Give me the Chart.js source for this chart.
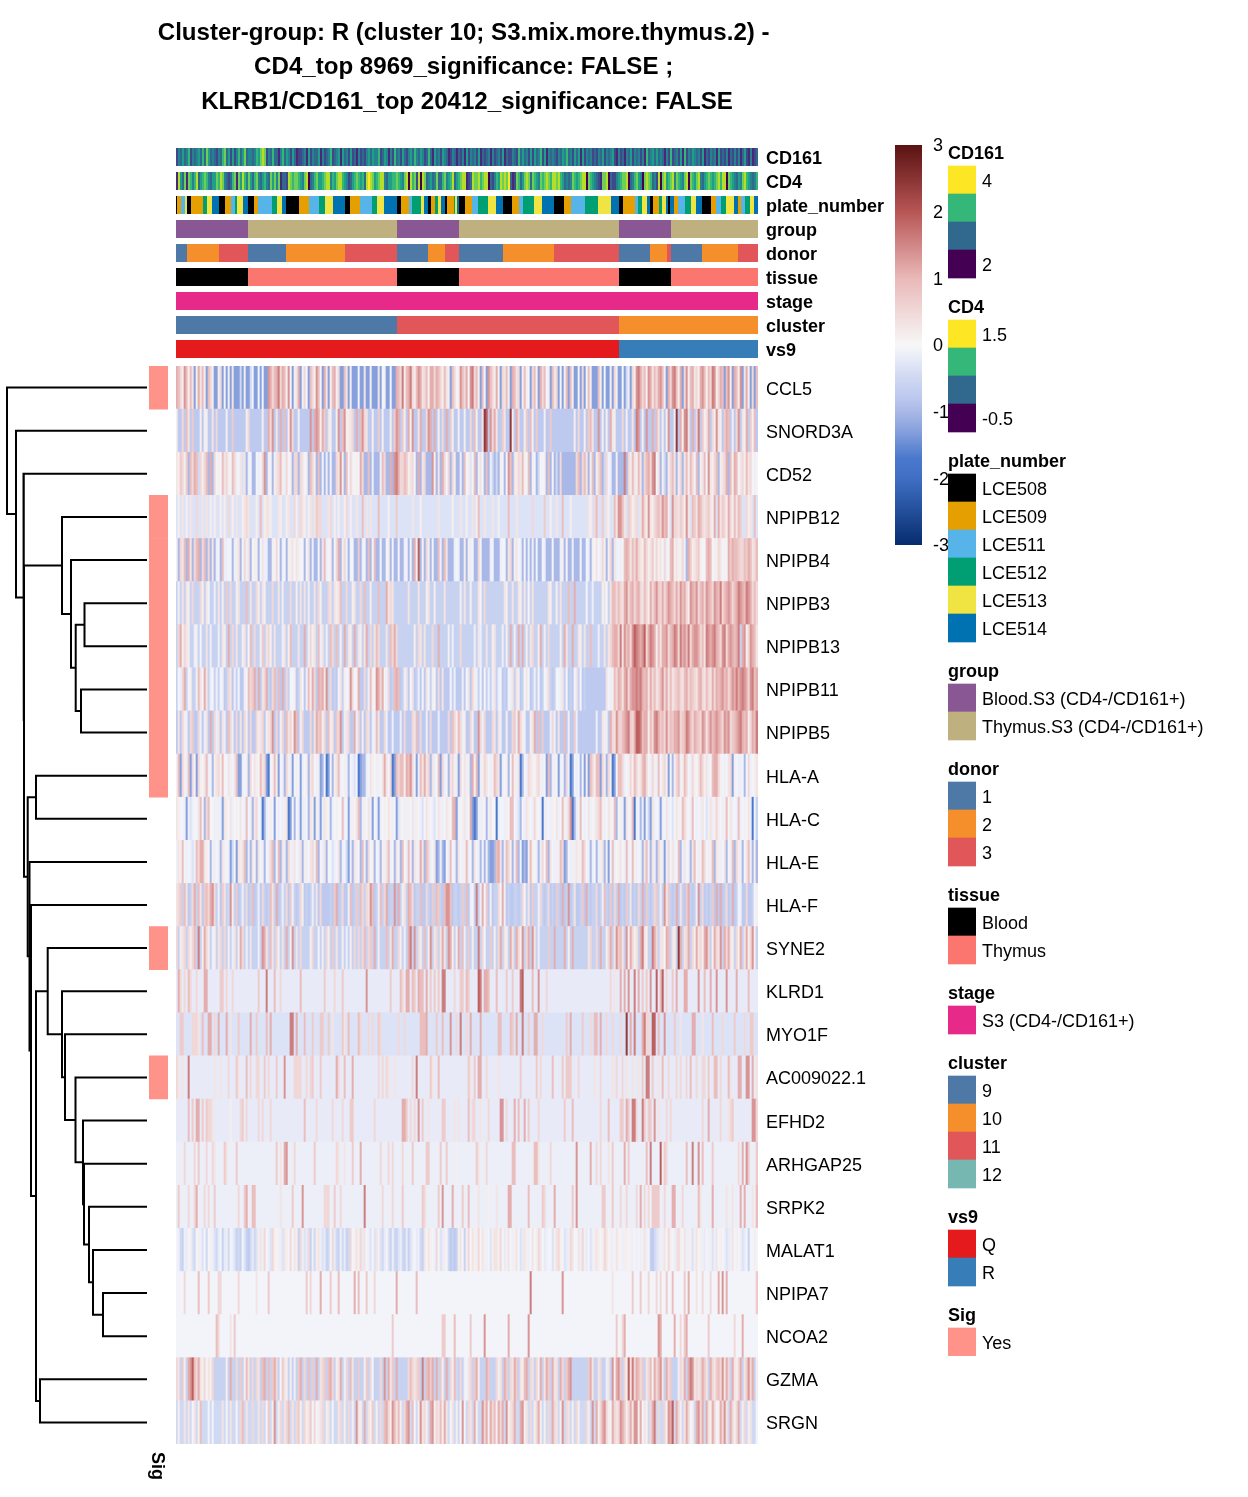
<!DOCTYPE html>
<html><head><meta charset="utf-8">
<script src="https://cdn.jsdelivr.net/npm/chart.js@4"></script>
<style>html,body{margin:0;padding:0;background:#fff}canvas{position:absolute;display:block}</style>
</head><body>
<script>
const TITLE_LINES = ["Cluster-group: R (cluster 10; S3.mix.more.thymus.2) - ", "CD4_top 8969_significance: FALSE ; ", "KLRB1/CD161_top 20412_significance: FALSE"];
const GENES = ["CCL5","SNORD3A","CD52","NPIPB12","NPIPB4","NPIPB3","NPIPB13","NPIPB11","NPIPB5","HLA-A","HLA-C","HLA-E","HLA-F","SYNE2","KLRD1","MYO1F","AC009022.1","EFHD2","ARHGAP25","SRPK2","MALAT1","NPIPA7","NCOA2","GZMA","SRGN"];
const SIG_GENES = ["CCL5","NPIPB12","NPIPB4","NPIPB3","NPIPB13","NPIPB11","NPIPB5","HLA-A","SYNE2","AC009022.1"];
const TRACKS = ["CD161","CD4","plate_number","group","donor","tissue","stage","cluster","vs9"];
const N_CELLS = 291;

// z-score code of each letter used in the heat rows
const Z_CODES = {a:-2,b:-1.7,c:-1.3,d:-1,e:-0.78,f:-0.62,g:-0.48,h:-0.33,i:-0.2,j:-0.14,k:-0.06,l:0.15,m:0.3,n:0.5,o:0.7,p:0.9,q:1.1,r:1.35,s:1.6,t:1.9,u:2.4};

const CD161_VALUES = "2435346243 4536375343 2436735252 4635734434 6578724363 3146354253 1223415243 3514234623 4515342523 1423245354 4623541426 3425324536 4354236315 3425431243 1324152434 2513234142 3425132243 2635342525 3462514343 2435463425 3515243423 2435243452 1423143524 3424163453 5343142623 4251624354 3425132434 1523241324 2413521412 3";
const CD4_VALUES = "1853717646 8356764355 7687432367 1758647536 7435643757 4713328767 7654780346 7556788465 7886542356 7656389875 6788435566 7654780867 2808734534 7336745683 5678812387 7867880324 6587879312 7635787376 5476787688 7865343476 5678807654 3217780322 4567780346 7540787634 2807856784 7654780765 7843567656 7868807654 3547865434 6";
const PLATE_RUNS = [[0,0],[.5,1],[2.5,2],[4.5,4],[5.5,0],[7.5,1],[13.5,3],[15.5,4],[18,5],[21.5,0],[24.5,1],[27.5,2],[29.5,3],[30.5,4],[33.5,5],[36,0],[39,1],[41,2],[48,3],[50.5,4],[53,5],[55,0],[61.5,1],[66.5,2],[71.5,3],[74.5,4],[78.5,5],[84.5,0],[87,1],[92,2],[98,3],[100.5,4],[104,5],[110.5,0],[112.5,1],[116.5,2],[118,3],[122.5,4],[124,5],[126,0],[127.5,1],[129.5,3],[131,4],[132.5,5],[134.5,0],[135.5,1],[139,3],[139.5,4],[140.5,5],[141.5,0],[144.5,1],[148,2],[151,3],[156,4],[160,5],[163.5,0],[168,1],[171.5,2],[173.5,3],[179,4],[183,5],[189,0],[194,1],[197.5,2],[204.5,3],[211,4],[217.5,5],[221.5,0],[223.5,1],[229.5,2],[231,3],[233,4],[235.5,5],[237,0],[238.5,1],[241.5,3],[243,4],[245,5],[246,0],[247,5],[249,1],[251,2],[254.5,3],[257.5,4],[260,5],[263,0],[267.5,1],[270,2],[272.5,3],[275,4],[279,5],[281,1],[282.5,2],[284.5,3],[287,4],[289,5]];
const GROUP_RUNS = [[0,0],[36,1],[110.5,0],[141.5,1],[221.5,0],[247.5,1]];
const DONOR_RUNS = [[0,0],[5.5,1],[21.5,2],[36,0],[55,1],[84.5,2],[110.5,0],[126,1],[134.5,2],[141.5,0],[163.5,1],[189,2],[221.5,0],[237,1],[245.5,2],[247.5,0],[263,1],[281,2]];
const TISSUE_RUNS = [[0,0],[36,1],[110.5,0],[141.5,1],[221.5,0],[247.5,1]];
const STAGE_RUNS = [[0,0]];
const CLUSTER_RUNS = [[0,0],[110.5,2],[221.5,1]];
const VS9_RUNS = [[0,0],[221.5,1]];

const CCL5 = "qpnlrplpmc lqmplcpnlc clnckclcmc ccgclccgkc ckckccrqnp qsnqplrkcl mqclnkcpnl rpkcqmclpq lnccpmclcc ckccmcclcc cmcklcckcc qpnslpqsnl prqmnplqqn qpnlpmlcpn klrpnqkrsn plcpkcrpnl qlcnmplcqp mnclplkcnp lcqnpklcpm nckclpcplc ckcnckplcc cplckcclcn lcckcglcnl rsqnplrqmp nqrplcqnrs plqcnrlpqm nlqrplpnsr lnqpcprlcq plrcmqlcnc p";
const SNORD3A = "leenepmeoe eelelleeme neeeeleeoe eeeeelneee eeeleeqnre meqepelrne eleeeeereq rqlqoemlee lreprllmne qeprnmeele eoeleeeleo rqeoleqlre emqeenrqeq eleneqeole eleeleenep leemuternq meeomeeule qneeloeple oeeeleeoee eeeeeeeeel eneeleopme ereleleqml eeeneleeme srelereeqe pmelelreel ueqlrsmeqe nseolmqenl rmleoqpele nremlqeolp e";
const CD52 = "mlonlodpnq pgnlnpdqdn klkpmnlkpn jkmhmdjkdd kjknrdlkdl mnpljnkldn ndnmkldpnl dpdkdjdkdd nmrldpknlk lkqnddpdjd ddjpnddqdr sqnnpolmnk dqdmndddrl dmdqnkndnl ddjdpklhkp dlmkdpdjgd gdlkdkrpdm lnmplkpdlk dgkkldpdkd gdnddddddd npdnpmdlpd lnpdgnkjdd ldddsdnlpm lpmdnpqnrs kmdlgdlnpm dlndmplpnk pdlmpkrmln pdlmnqdplq pkmnlpmnkl k";
const NPIPB12 = "hlhmhlhmhh nhhmhmhlhl hhlhlhnhlh mhhlmnmhhh lhphlmmlhh hmlhhlmhhn lhnmlhlmhm onnhhhmnhl hlhhlnhlhh mhhphmhmhh hphhhhlhhh ohhhhhhhmh hhlhhhhhhh hmhhhhhhlh hhmhhlhhmh lphhmhhhmh hlhhhhphhh mhhhhhhhnh hhhhohhlhh mhhphhhlhh hhhhhhmlhn phhohmlhhp mrrpmhonlm nhmqnlrmln opnrpqlhrn nmonlrmhpo mqpnmnomlq hqmonlqnlp mpohhnlmhp h";
const NPIPB4 = "ldnmpdqmdn pqdnpdndmd jkdpjjkkdj lmdknjmdkl ldkmjjddlk nkdjkdllmk mlkkdkmdjd dkdmpjkldk nqdlnjdkkd dodjkdpdkp ddkddkldkd dkddjkdkdq ltdkdnldkd dpjdpmdddj kjddldljkd dnkddddjkd ddjkkdmndl mkjdkdjdjd kddkjdddkd ddjldkddjd ddkddkjdlk mkjnldlndm jkjkpqpmpn qnmlpnlmol nlmknjkpql mllnjdqolm nolkkpqpkl lnmklkqoqp ponnpoqpmn p";
const NPIPB3 = "flfmfmlfnf ffnlfmkffj fmflfofnff lmfffpfmff nlfmlfffnf fmflfffnff lfmfmfjffm fnlfffnmfm lmpffnfflm ffnfpfflff fpfffqmnmf ffffffmfff fmffflmffl ffffmfffff fflfmfflff fmkfnfffff ffffmlffmf fmlfmfkfmf ffffffmlff lfmfffpffq fffffkffjf ffflmkfmpp npnmqrnpqn pqnmpnlqnp ronqnprqpn qnrpqnlrqp rnpqnrqpnr qpsnpqrqnp qsrqpsrqnp n";
const NPIPB13 = "fnqlnmlffj lfkffmfjff fjfmlfqfnf mfflmfkpfn fflofmnlfm fffjmflpff fmffqfjnlm fpjmfjfpnf pflfqfmlfq fmlfmqfnfm pnfffmfpnq nffffffffl fnmfmfffnf fqfffflfjf ffnffffffj fmjffmfflm fffjflfqfl fqfqflfmnf flqfjfnfff fflfqmffqf fmlfmffpff fjffmfmnpq qnsmrpqnrt srqrtnqsrq lpmqqrnpqs rnsqrpsnqr rqnpmsrqrs qpnrsnqrqp qsfqrlnrqp m";
const NPIPB11 = "fkjnqfklff jpmkqmfjkf jfkjefnmej fkeejkpnoq fqemnqfenp fpeqenfkkl efmkejplqn eqpqmrfnef ekmflkjrnk lqeenfjplk rqnqkjnefp qpefjmekme fjekemkflk enemeeekfj eeejekmenl jfkekfjfjm fjkefekjmf mlefkmkefj fkefkjnfef kkjmfkefek mfkefeeeee eeeeemkjlp nqpmqrnqrr srsqpqmqnp mnprnqmpmn opnmpqnpon mpqnmpnmqn qpqrpqnprq sqrsrqnrsp q";
const NPIPB5 = "emenljenoe enjejmeqen jmemjepnje nemenlenee nlmnelmnre nelnepmnlr pelneeenem qoplneplme onrejmneeq jnelenmejj pmeenjeeje eejeneeenm peneejenee ejeeeenepn lpnjleenle ernjneeenm emjeeleeno jqnljeelmq epeoeeejnj emeepeleeo jeeeeeeeee jeemljeqnm ronpqrsonq ttspqqlpnr sqopnrnpoq qrnopsrpnq ponrqmprpq rqpnrqrnop qrsqpqlnqp s";
const HLA_A = "lpcnljpcnk cnlkmpjkdl mnlpkkmjkm pccjkldnkm lkpmncbklp lckjdnljck lkcjkldmnk ljcdkbckdl mpjkljdkjh kbcddjkmlk ljkmqmknbc pnpplqprnk cjpmqmndmj kpcnjkdmnl jcnkmjldql pcjlnmkjlp nmcjkldkpl jmbdkjnmlk mnljkcpdjl kcjkdnjbck jkdkclcpnl ppcnldnlbc kppnjklnlp nlmpqnkjnl jpkmnlckdl npjlpnkjnl kmpnlmjkpq qnlkjkmncl kjjkdknjkl m";
const HLA_C = "mlkkjcjhjk kmpkdnpkkj ljjcmlkmjk lkmkjpkjdm nkjbdjklkc kjkjlmbckd kjcjjkdmlc ljcjmlkdjk lkkpjkcjlk mpdjlkmjck jcjklkmljk chlkjljkmj lkjhkmlkjh kmljkmlkpq cjklmjkqcb cjjlkdjmkk bjkkjlkppk jhdkjmlkjn lkjbljkjlk mjkpljnrbd jkpkjkmjkl mnpljkmlkp dkljcmklpb jkdjckgcmj kjcjkmjkhk mlkpnlkjpk jkjmkhlmjl nlkjlpkmjk jpjklkmjbk f";
const HLA_E = "jmlpkjkjhj pnqqmlkdlj kjdmlkjcgk cmlmpdjdmk dmkjdkjnpd kpdmjdnljm kjmdljkmnj pdkjmdkkhj kmdjkgcjdm lkdpjdnkld kjdljmpjkd mkdpkjpldm ljqmdpnjkm cdjdckjpkj dmkjlpjkdm kjdkdjdccd pqmdjpnldj pdkcdclplk jdjnkpdmkj ljpncdkjlj mljpnkjdjk djlmdjckpj klmkjpjkpl jkjdmpjdmj dnljcjnkmj kpdjmkjdmp kjlpnkjlpd mljkmdkjpd nljdkmpjdl d";
const HLA_F = "mnofpmefnq fpmeopnqrn fjeomfgrlf oefjfnefpe fjenfefpmf qefjfneojf efnlefefjf meneeeefeo qefneejpef ofpnfnmrpe fjpfnqeffr eqflmfqpne ffpeenfeof pofeprrpef fefofpejkf sfjqkoelef fnkqlefeef fefnkfmeof fjnfefnefe ofeqefrefm eefoeqfeff nefjpfeoen fqefeofmef enfqeofefn ofjfrmofef qemfeoqfef jrfnefefoe qeqefnefqe fkjeeneefk l";
const SYNE2 = "nflmnfnlnp fsflqnlfjl fmnfnflfjm flqnfjfmff fjfrqmfpmf nlfmfqflrf mfnfffflnf fkflfnlfof mfflfjflfn fnfnpfnofq flfffpfmqf fnlfjfqsfr fnlfpflrfm nfmqmfrqlf lqfpjfoflf fsfnkffofl fnqfmlfqmf qnlrfnqfrm fjffffoffq ffffqflfqf ffffffmnff nfqfflnqfm ropmfrlqnl mfqsmlffsq nfmmkqpfml fuqfmnqfnl qmnlqrnflq nmrfqnqmlf nlqfmqlnrl f";
const KLRD1_HITS = [[1,"q"],[2,"n"],[4,"n"],[6,"p"],[7,"n"],[10,"n"],[14,"q"],[15,"q"],[22,"o"],[23,"o"],[25,"n"],[28,"n"],[41,"o"],[45,"s"],[49,"p"],[52,"n"],[62,"p"],[74,"o"],[79,"n"],[83,"o"],[95,"r"],[107,"o"],[112,"p"],[113,"n"],[115,"q"],[116,"q"],[118,"p"],[119,"o"],[121,"q"],[122,"p"],[123,"p"],[125,"q"],[127,"o"],[129,"o"],[131,"o"],[133,"s"],[134,"s"],[139,"n"],[142,"o"],[143,"o"],[145,"p"],[145.5,"o"],[151,"t"],[152,"s"],[154,"q"],[155,"q"],[156,"p"],[160,"p"],[165,"o"],[168,"o"],[172,"s"],[173,"t"],[178,"p"],[181,"r"],[185,"n"],[217,"n"],[219,"m"],[222,"q"],[224,"q"],[226,"r"],[229,"s"],[231,"q"],[233,"o"],[235,"o"],[237,"r"],[240,"t"],[242,"p"],[243,"t"],[245,"n"],[248,"o"],[250,"q"],[254,"q"],[255,"q"],[261,"r"],[264,"p"],[267,"q"],[270,"r"],[275,"r"],[280,"q"],[286,"p"]];
const MYO1F_HITS = [[2,"o"],[3,"o"],[8,"n"],[9,"n"],[10,"n"],[11,"m"],[13,"p"],[16,"q"],[17,"q"],[19,"n"],[21,"q"],[25,"q"],[27,"m"],[31,"o"],[37,"q"],[40,"o"],[45,"p"],[47,"q"],[57,"s"],[58,"s"],[60,"q"],[64,"p"],[68,"o"],[72,"o"],[73,"o"],[76,"o"],[78,"m"],[83,"o"],[84,"m"],[86,"p"],[91,"p"],[92,"n"],[96,"n"],[98,"n"],[101,"o"],[102,"n"],[111,"n"],[114,"n"],[122,"p"],[123,"p"],[124,"p"],[125,"q"],[130,"o"],[133,"p"],[137,"r"],[140,"n"],[142,"s"],[145,"n"],[147,"q"],[152,"q"],[161,"p"],[162,"p"],[167,"p"],[168,"o"],[170,"q"],[173,"s"],[176,"o"],[179,"q"],[180,"q"],[183,"n"],[195,"o"],[197,"q"],[203,"o"],[207,"n"],[209,"p"],[210,"p"],[212,"q"],[215,"n"],[218,"n"],[222,"n"],[225,"u"],[227,"q"],[229,"s"],[233,"q"],[234,"s"],[235,"n"],[236,"n"],[238,"t"],[239,"t"],[241,"p"],[244,"r"],[249,"o"],[252,"m"],[258,"q"],[259,"q"],[263,"m"],[268,"p"],[273,"n"],[279,"o"],[284,"n"],[287,"o"],[288,"o"]];
const AC009022_HITS = [[0,"n"],[1,"m"],[3,"m"],[6,"s"],[19,"m"],[22,"m"],[26,"n"],[30,"o"],[31,"m"],[35,"p"],[37,"n"],[40,"n"],[41,"n"],[44,"o"],[46,"n"],[50,"o"],[54,"r"],[59,"n"],[60,"n"],[61,"n"],[62,"n"],[65,"n"],[67,"n"],[68,"o"],[72,"o"],[80,"q"],[81,"n"],[84,"p"],[88,"q"],[101,"n"],[103,"n"],[105,"n"],[106,"m"],[109,"m"],[118,"n"],[120,"s"],[127,"o"],[128,"m"],[131,"p"],[146,"o"],[147,"m"],[149,"o"],[151,"q"],[152,"q"],[155,"n"],[161,"m"],[172,"o"],[180,"o"],[182,"n"],[188,"p"],[193,"o"],[195,"o"],[196,"o"],[197,"o"],[201,"n"],[209,"m"],[212,"n"],[218,"m"],[220,"n"],[223,"n"],[225,"m"],[228,"m"],[231,"m"],[233,"o"],[235,"s"],[236,"s"],[238,"o"],[241,"m"],[243,"p"],[246,"n"],[250,"n"],[252,"n"],[255,"n"],[257,"p"],[260,"n"],[263,"n"],[264,"n"],[266,"o"],[269,"p"],[270,"p"],[272,"n"],[276,"p"],[277,"m"],[281,"q"],[282,"q"],[285,"r"],[286,"r"],[288,"q"],[290,"m"]];
const EFHD2_HITS = [[6,"p"],[8,"o"],[10,"q"],[11,"q"],[13,"o"],[15,"o"],[16,"n"],[17,"n"],[18,"m"],[27,"l"],[32,"n"],[33,"o"],[35,"n"],[41,"n"],[43,"n"],[47,"n"],[64,"p"],[70,"n"],[78,"n"],[83,"n"],[87,"o"],[88,"o"],[99,"n"],[113,"q"],[114,"q"],[115,"o"],[117,"n"],[119,"n"],[121,"r"],[123,"o"],[126,"m"],[133,"o"],[134,"o"],[139,"m"],[141,"m"],[146,"p"],[148,"n"],[149,"n"],[152,"m"],[156,"n"],[162,"r"],[163,"r"],[165,"n"],[169,"q"],[171,"p"],[174,"q"],[176,"o"],[181,"n"],[194,"o"],[198,"p"],[212,"n"],[216,"p"],[222,"o"],[223,"o"],[225,"q"],[226,"o"],[228,"s"],[229,"s"],[230,"n"],[233,"s"],[234,"o"],[236,"o"],[237,"o"],[239,"r"],[241,"m"],[245,"n"],[247,"n"],[263,"n"],[266,"q"],[272,"n"],[276,"m"],[277,"n"],[278,"o"],[288,"r"],[289,"r"],[290,"n"]];
const ARHGAP25_HITS = [[4,"n"],[9,"n"],[11,"o"],[15,"n"],[18,"n"],[19,"m"],[24,"o"],[25,"m"],[30,"o"],[50,"o"],[52,"m"],[54,"q"],[55,"r"],[59,"n"],[69,"o"],[80,"n"],[81,"m"],[84,"m"],[88,"o"],[92,"q"],[102,"n"],[106,"n"],[108,"n"],[113,"n"],[118,"o"],[125,"o"],[126,"o"],[132,"o"],[135,"o"],[140,"l"],[150,"o"],[151,"m"],[155,"n"],[168,"p"],[169,"p"],[179,"p"],[180,"p"],[181,"m"],[187,"n"],[200,"r"],[207,"q"],[210,"n"],[212,"n"],[216,"m"],[218,"o"],[224,"q"],[226,"o"],[235,"p"],[237,"s"],[242,"t"],[244,"o"],[245,"n"],[255,"p"],[258,"s"],[261,"r"],[263,"p"],[268,"o"],[281,"n"],[283,"q"],[285,"r"],[286,"o"],[290,"o"]];
const SRPK2_HITS = [[1,"o"],[6,"n"],[9,"n"],[10,"q"],[14,"n"],[16,"n"],[19,"o"],[31,"n"],[34,"o"],[35,"q"],[38,"p"],[39,"p"],[52,"m"],[58,"o"],[63,"r"],[74,"n"],[75,"n"],[76,"n"],[79,"o"],[82,"n"],[94,"s"],[103,"n"],[108,"n"],[113,"o"],[123,"o"],[124,"n"],[131,"o"],[133,"r"],[138,"q"],[143,"o"],[146,"p"],[151,"m"],[156,"l"],[160,"m"],[166,"q"],[167,"q"],[176,"p"],[183,"o"],[184,"n"],[189,"q"],[198,"o"],[200,"r"],[213,"o"],[214,"o"],[218,"o"],[222,"n"],[225,"n"],[230,"n"],[232,"q"],[234,"n"],[236,"n"],[238,"o"],[239,"o"],[240,"o"],[241,"o"],[244,"n"],[248,"q"],[249,"q"],[253,"n"],[261,"p"],[262,"m"],[268,"q"],[275,"m"],[278,"m"],[282,"q"],[284,"q"],[288,"m"],[290,"p"]];
const MALAT1 = "kjgfjiklhg kljhkgkljh gikfijgkjh fgfkhfegig hlmjnkjhnl kljhmlknkm lfnjhinfjg lmjhifgkni gfjgifgnkl mlnimkjhkh mlhgikhfjg fhjgfifhjk ijgfmkmlkj nkhilkgefe flmkflnkml lnkmljkhlm mlnkilmkjl mkhimljkmk lnmkijkkhl mnlkhijnmk kmjnlikhjl mlklnmkljk mlkjllkljk jkjlmjkfeg hiljmknlkj mnlkmjljhl mkljikjlhj mklkjhijmk lkjhikfkkl k";
const NPIPA7_HITS = [[4,"n"],[11,"p"],[16,"o"],[21,"n"],[22,"n"],[31,"n"],[40,"m"],[46,"o"],[65,"o"],[67,"n"],[72,"q"],[77,"o"],[81,"p"],[89,"q"],[91,"p"],[95,"o"],[99,"n"],[110,"q"],[120,"p"],[177,"s"],[193,"r"],[218,"m"],[228,"o"],[232,"o"],[236,"n"],[240,"n"],[242,"n"],[245,"o"],[248,"p"],[254,"o"],[256,"q"],[260,"m"],[263,"n"],[267,"n"],[271,"q"],[273,"r"],[275,"q"],[290,"o"]];
const NCOA2_HITS = [[20,"p"],[21,"n"],[27,"m"],[29,"o"],[108,"o"],[132.5,"o"],[134,"o"],[138.5,"p"],[147,"o"],[153.5,"r"],[165.5,"q"],[176,"r"],[219.5,"o"],[223,"n"],[224,"q"],[241,"r"],[242,"q"],[249,"q"],[252,"n"],[254,"o"],[255,"q"],[265.5,"o"],[279,"n"],[282.5,"q"]];
const GZMA = "nmfolfqrtp nqmlnkmlnf ffffflfqff nfoflpmfnf nmfpqfpfoq nfkomlflfj foqfnfpfof qfmnofpqnf lmqfjnfpmf fofflofnkf ffnfrfqmof qfffffnpnm nofsfpqoqf qfolfqfnlp gfnfjkmnfo qlfffqofff nlmfqofnmq ofmlpqfnmf nlqfmqofqm mfqnfoqrff ffffffoqmf fmnffjmfrl qrofnltmsn qpnofmnplq nprmfqnoff fjnmqfqsrm nmnqomfqnm opnrmqnfqm lnqfmornqf l";
const SRGN = "glggmgmgkm glpgggkgkg gggmgkgmgg kgnpgmggng gmgngkoglr glngmnpgmg nolgnlmokn klmnglmgkg gmnglgnglg rmlgqgmlog lgngpqnlrp mplgnqrgpk glrmnlgqrl nmplqmgkmg lgkrkgnmgq lggrnqlqnp lqnqgrlmnq ggqrlmgngl nqlglgngqn mglrgnmglg nlgggnlgrg qlnqrnlkqn mnrqolnqmr rlqkmlgnqs gnggnlrqtg qnlgmqnklg qrnqgqmlqn klqnrmgqnl nqglnglmgg k";

// dendrogram merges: [height, childA, childB]; integer children are row numbers
const M_NPIPA7_NCOA2 = [44,21,22];
const M_MALAT1 = [54,20,M_NPIPA7_NCOA2];
const M_SRPK2 = [58,19,M_MALAT1];
const M_ARHGAP25 = [63,18,M_SRPK2];
const M_EFHD2 = [64,17,M_ARHGAP25];
const M_AC = [71.5,16,M_EFHD2];
const M_MYO1F = [82,15,M_AC];
const M_KLRD1 = [85,14,M_MYO1F];
const M_SYNE2 = [99.3,13,M_KLRD1];
const M_GZMA_SRGN = [107,23,24];
const M_J = [111,M_SYNE2,M_GZMA_SRGN];
const M_HLAF = [116,12,M_J];
const M_HLAE = [117.5,11,M_HLAF];
const M_HLAAC = [111,9,10];
const M_E = [119.3,M_HLAAC,M_HLAE];
const M_B3_B13 = [62.5,5,6];
const M_B11_B5 = [66,7,8];
const M_N3 = [71.3,M_B3_B13,M_B11_B5];
const M_B4 = [76,4,M_N3];
const M_B12 = [85,3,M_B4];
const M_D = [123,M_B12,M_E];
const M_CD52 = [123.5,2,M_D];
const M_SNORD = [131,1,M_CD52];
const DENDRO_ROOT = [140,0,M_SNORD];

// legends
const CD161_LEG = ["4","","","2"];
const CD4_LEG = ["1.5","","","-0.5"];
const PLATE_LEG = ["LCE508","LCE509","LCE511","LCE512","LCE513","LCE514"];
const GROUP_LEG = ["Blood.S3 (CD4-/CD161+)","Thymus.S3 (CD4-/CD161+)"];
const DONOR_LEG = ["1","2","3"];
const TISSUE_LEG = ["Blood","Thymus"];
const STAGE_LEG = ["S3 (CD4-/CD161+)"];
const CLUSTER_LEG = ["9","10","11","12"];
const VS9_LEG = ["Q","R"];
const SIG_LEG = ["Yes"];
const COLORBAR_TICKS = [-3,-2,-1,0,1,2,3];

// colours
const VIRIDIS = ["#440154","#482878","#3e4989","#31688e","#26828e","#1f9e89","#35b779","#6ece58","#b5de2b","#fde725"];
const LEG_RAMP = ["#fde725","#35b779","#31688e","#440154"];
const PLATE_COL = ["#000000","#E69F00","#56B4E9","#009E73","#F0E442","#0072B2"];
const GROUP_COL = ["#8A5795","#BFB07F"];
const DONOR_COL = ["#4E79A7","#F58F2B","#E15759"];
const TISSUE_COL = ["#000000","#FB766F"];
const STAGE_COL = ["#E7298A"];
const CLUSTER_COL = ["#4E79A7","#F58F2B","#E15759","#76B7B2"];
const VS9_COL = ["#E41A1C","#377EB8"];
const SIG_COL = ["#FF9289"];
const HEAT_STOPS = [[-3,"#062c6e"],[-2,"#3f6fc4"],[-1.7,"#4a78cc"],[-1.3,"#85a0dc"],[-1,"#a9b8e6"],[-0.78,"#bdc9ef"],[-0.48,"#d0d9f2"],[-0.33,"#dde3f6"],[-0.2,"#e8ebf7"],[-0.06,"#f3f4f9"],[0,"#f7f7f7"],[1,"#eab8b8"],[2,"#b85555"],[3,"#5a1212"]];

const FONT = '"Liberation Sans", Arial, sans-serif';
Chart.defaults.font.family = FONT;
Chart.defaults.color = '#000';
Chart.defaults.animation = false;
Chart.defaults.events = [];
Chart.defaults.plugins.legend.display = false;
Chart.defaults.plugins.tooltip.enabled = false;

function hex(c){return [1,3,5].map(i=>parseInt(c.substr(i,2),16));}
function heatColor(z){
  for(let i=1;i<HEAT_STOPS.length;i++){
    if(z<=HEAT_STOPS[i][0]){
      const [z0,c0]=HEAT_STOPS[i-1],[z1,c1]=HEAT_STOPS[i];
      const t=(z-z0)/(z1-z0),a=hex(c0),b=hex(c1);
      return `rgb(${a.map((v,k)=>Math.round(v+(b[k]-v)*t)).join(',')})`;
    }
  }
  return HEAT_STOPS[HEAT_STOPS.length-1][1];
}
function makeCanvas(left,top,w,h){
  const c=document.createElement('canvas');
  c.width=w;c.height=h;c.style.left=left+'px';c.style.top=top+'px';
  c.style.width=w+'px';c.style.height=h+'px';
  document.body.appendChild(c);
  return c.getContext('2d');
}
const fitY=w=>s=>{s.width=w;s.paddingTop=0;s.paddingBottom=0;};
const lowered=function(v){return ['',this.getLabelForValue(v)];};
const clean=s=>s.replace(/ /g,'');
function sparse(base,hits){
  const a=new Array(N_CELLS).fill(base);
  hits.forEach(([p,c])=>{a[Math.min(N_CELLS-1,Math.round(p))]=c;});
  return a.join('');
}
function runsToCells(row,str,colorOf){
  const out=[];let i=0;
  while(i<str.length){
    let j=i;while(j<str.length&&str[j]===str[i])j++;
    out.push({x:[i,j],y:row,c:colorOf(str[i])});
    i=j;
  }
  return out;
}
function runCells(row,runs,pal){
  return runs.map(([s,code],i)=>({x:[s,i+1<runs.length?runs[i+1][0]:N_CELLS],y:row,c:pal[code]}));
}

/* ---------- title: canvas is centred on the heat map, so the title is too ---------- */
new Chart(makeCanvas(0,0,934,140),{type:'bar',data:{labels:[],datasets:[]},
  options:{responsive:false,layout:{padding:{top:16,left:0,right:0,bottom:0}},
    plugins:{title:{display:true,text:TITLE_LINES,font:{size:24.1,weight:'bold',lineHeight:'34.5px'},padding:{top:0,bottom:0},color:'#000'}},
    scales:{x:{display:false},y:{display:false}}}});

/* ---------- top annotation tracks ---------- */
const trackCells=[
  ...runsToCells("CD161",clean(CD161_VALUES),ch=>VIRIDIS[+ch]),
  ...runsToCells("CD4",clean(CD4_VALUES),ch=>VIRIDIS[+ch]),
  ...runCells("plate_number",PLATE_RUNS,PLATE_COL),
  ...runCells("group",GROUP_RUNS,GROUP_COL),
  ...runCells("donor",DONOR_RUNS,DONOR_COL),
  ...runCells("tissue",TISSUE_RUNS,TISSUE_COL),
  ...runCells("stage",STAGE_RUNS,STAGE_COL),
  ...runCells("cluster",CLUSTER_RUNS,CLUSTER_COL),
  ...runCells("vs9",VS9_RUNS,VS9_COL)
];
new Chart(makeCanvas(0,145,890,216),{type:'bar',
  data:{labels:TRACKS,datasets:[{data:trackCells,backgroundColor:trackCells.map(d=>d.c),borderWidth:0,barPercentage:.75,categoryPercentage:1}]},
  options:{indexAxis:'y',responsive:false,
    layout:{padding:{left:176,top:0,right:0,bottom:0}},
    scales:{x:{type:'linear',min:0,max:N_CELLS,display:false},
      y:{type:'category',position:'right',afterFit:fitY(132),grid:{display:false,drawTicks:false},border:{display:false},
         ticks:{font:{size:18,weight:'bold',lineHeight:'4px'},padding:8,autoSkip:false,color:'#000',callback:lowered}}}}});

/* ---------- heat map ---------- */
const ROWS={CCL5,SNORD3A,CD52,NPIPB12,NPIPB4,NPIPB3,NPIPB13,NPIPB11,NPIPB5,"HLA-A":HLA_A,"HLA-C":HLA_C,"HLA-E":HLA_E,"HLA-F":HLA_F,SYNE2,
  KLRD1:sparse('i',KLRD1_HITS),MYO1F:sparse('h',MYO1F_HITS),"AC009022.1":sparse('i',AC009022_HITS),EFHD2:sparse('i',EFHD2_HITS),
  ARHGAP25:sparse('j',ARHGAP25_HITS),SRPK2:sparse('j',SRPK2_HITS),MALAT1,NPIPA7:sparse('k',NPIPA7_HITS),NCOA2:sparse('k',NCOA2_HITS),GZMA,SRGN};
const heatCells=[];
GENES.forEach(g=>{
  const s=clean(ROWS[g]);
  heatCells.push(...runsToCells(g,s.padEnd(N_CELLS,s[s.length-1]).slice(0,N_CELLS),ch=>heatColor(Z_CODES[ch])));
});
new Chart(makeCanvas(176,366,714,1078),{type:'bar',
  data:{labels:GENES,datasets:[{data:heatCells,backgroundColor:heatCells.map(d=>d.c),borderWidth:0,barPercentage:1,categoryPercentage:1}]},
  options:{indexAxis:'y',responsive:false,layout:{padding:0},
    scales:{x:{type:'linear',min:0,max:N_CELLS,display:false},
      y:{type:'category',position:'right',afterFit:fitY(132),grid:{display:false,drawTicks:false},border:{display:false},
         ticks:{font:{size:18,lineHeight:'4px'},padding:8,autoSkip:false,color:'#000',callback:lowered}}}}});

/* ---------- Sig column ---------- */
const sigBars=SIG_GENES.map(g=>({x:[0,1],y:g}));
new Chart(makeCanvas(139,366,39,1120),{type:'bar',
  data:{labels:GENES,datasets:[{data:sigBars,backgroundColor:SIG_COL[0],borderWidth:0,barPercentage:1,categoryPercentage:1}]},
  options:{indexAxis:'y',responsive:false,layout:{padding:{left:10,right:10,top:0,bottom:42}},
    scales:{x:{type:'linear',min:0,max:1,display:false},y:{type:'category',display:false}}},
  plugins:[{id:'sigLabel',afterDraw(ch){
    const c=ch.ctx,x=ch.scales.x.getPixelForValue(.5)-1.5,y=ch.chartArea.bottom+8;
    c.save();c.translate(x,y);c.rotate(Math.PI/2);
    c.font='bold 18px '+FONT;c.fillStyle='#000';c.textAlign='left';c.textBaseline='middle';
    c.fillText('Sig',0,0);c.restore();
  }}]});

/* ---------- dendrogram ---------- */
const dendroSets=[];
function walk(n){
  if(typeof n==='number')return {h:0,y:n};
  const a=walk(n[1]),b=walk(n[2]);
  dendroSets.push({data:[{x:a.h,y:a.y},{x:n[0],y:a.y},{x:n[0],y:b.y},{x:b.h,y:b.y}],
    showLine:true,borderColor:'#000',borderWidth:2,pointRadius:0,fill:false,tension:0,borderJoinStyle:'miter',borderCapStyle:'butt'});
  return {h:n[0],y:(a.y+b.y)/2};
}
walk(DENDRO_ROOT);
new Chart(makeCanvas(0,366,147,1078),{type:'scatter',data:{datasets:dendroSets},
  options:{responsive:false,layout:{padding:0},
    scales:{x:{type:'linear',min:0,max:147,reverse:true,display:false},
            y:{type:'linear',min:-.5,max:GENES.length-.5,reverse:true,display:false}}}});

/* ---------- colour bar ---------- */
new Chart(makeCanvas(890,130,60,430),{type:'bar',
  data:{labels:['z'],datasets:[{data:[[COLORBAR_TICKS[0],COLORBAR_TICKS[6]]],borderWidth:0,barPercentage:1,categoryPercentage:1,
    backgroundColor(ctx){
      const ch=ctx.chart;if(!ch.chartArea)return '#ccc';
      const y=ch.scales.y,g=ch.ctx.createLinearGradient(0,y.getPixelForValue(-3),0,y.getPixelForValue(3));
      HEAT_STOPS.forEach(([z,col])=>g.addColorStop((z+3)/6,col));
      return g;
    }}]},
  options:{responsive:false,layout:{padding:{left:5,top:15,bottom:15,right:0}},
    scales:{x:{type:'category',display:false},
      y:{type:'linear',position:'right',min:-3,max:3,afterFit:fitY(28),grid:{display:false,drawTicks:false},border:{display:false},
         ticks:{stepSize:1,font:{size:18,lineHeight:'3px'},padding:11,color:'#000',callback:v=>['',String(v)]}}}}});

/* ---------- legends ---------- */
const LEGENDS=[["CD161",CD161_LEG,LEG_RAMP],["CD4",CD4_LEG,LEG_RAMP],["plate_number",PLATE_LEG,PLATE_COL],["group",GROUP_LEG,GROUP_COL],["donor",DONOR_LEG,DONOR_COL],["tissue",TISSUE_LEG,TISSUE_COL],["stage",STAGE_LEG,STAGE_COL],["cluster",CLUSTER_LEG,CLUSTER_COL],["vs9",VS9_LEG,VS9_COL],["Sig",SIG_LEG,SIG_COL]];
const legBars=[],legTexts=[];let pos=0;
LEGENDS.forEach(([name,labs,cols])=>{
  legTexts.push({t:name,y:pos+.5,bold:true});pos+=1;
  labs.forEach((l,i)=>{legBars.push({x:[0,1],y:pos+.5,c:cols[i]});if(l)legTexts.push({t:l,y:pos+.5,bold:false});pos+=1;});
  pos+=.5;
});
pos-=.5;
new Chart(makeCanvas(940,130,308,1240),{type:'bar',
  data:{datasets:[{data:legBars,backgroundColor:legBars.map(d=>d.c),borderWidth:0,barThickness:28}]},
  options:{indexAxis:'y',responsive:false,layout:{padding:{left:8,right:272,top:8,bottom:14}},
    scales:{x:{type:'linear',min:0,max:1,display:false},y:{type:'linear',offset:false,min:0,max:pos,reverse:true,display:false}}},
  plugins:[{id:'legText',afterDraw(ch){
    const c=ch.ctx,xs=ch.scales.x,ys=ch.scales.y;
    c.save();c.fillStyle='#000';c.textBaseline='middle';c.textAlign='left';
    legTexts.forEach(d=>{
      c.font=(d.bold?'bold ':'')+'18px '+FONT;
      c.fillText(d.t,d.bold?xs.getPixelForValue(0):xs.getPixelForValue(1)+6,ys.getPixelForValue(d.y)+2);
    });
    c.restore();
  }}]});
</script>
</body></html>
